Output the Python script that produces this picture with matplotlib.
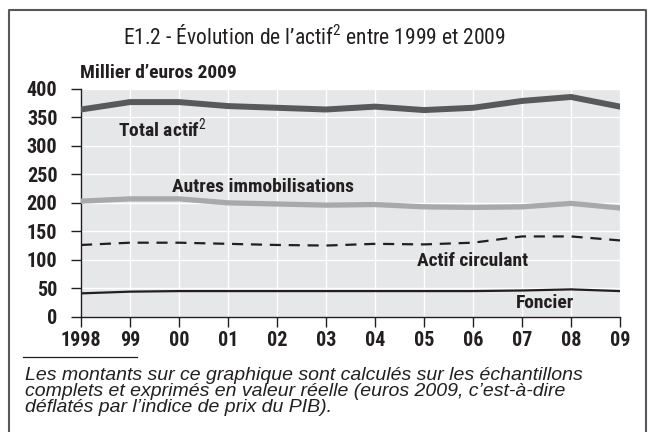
import matplotlib
matplotlib.use("Agg")
import matplotlib.pyplot as plt
from matplotlib import font_manager
from matplotlib.lines import Line2D

years = [1998, 1999, 2000, 2001, 2002, 2003, 2004, 2005, 2006, 2007, 2008, 2009]
year_labels = ["1998", "99", "00", "01", "02", "03", "04", "05", "06", "07", "08", "09"]

total_actif = [364, 377, 377, 370, 367, 364, 369, 363, 367, 379, 386, 369]
autres_immo = [203, 207, 207, 200, 198, 196, 197, 193, 192, 193, 199, 191]
actif_circulant = [126, 130, 130, 128, 126, 125, 128, 127, 130, 141, 141, 134]
foncier = [41, 44, 45, 45, 45, 45, 45, 45, 45, 46, 48, 45]

# look for a narrow font (the original uses a condensed grotesque)
fonts = font_manager.fontManager.ttflist
narrow, stretch = None, "normal"
for want in ["Liberation Sans Narrow", "Roboto Condensed", "Open Sans Condensed",
             "Noto Sans Condensed", "DejaVu Sans Condensed"]:
    if any(f.name == want for f in fonts):
        narrow = want
        break
if narrow is None:
    for f in fonts:
        if f.name in ("Noto Sans", "Open Sans", "Roboto", "DejaVu Sans") and \
                f.stretch in ("condensed", "semi-condensed", "extra-condensed"):
            narrow, stretch = f.name, f.stretch
            break
if narrow is None:
    narrow = "Liberation Sans"

plt.rcParams["font.family"] = [narrow, "DejaVu Sans"]
plt.rcParams["font.stretch"] = stretch
plt.rcParams["mathtext.fontset"] = "custom"
plt.rcParams["mathtext.rm"] = narrow

fig = plt.figure(figsize=(6.48, 4.32), dpi=100)
ax = fig.add_axes([81 / 648, 1 - 316.7 / 432, 539 / 648, 227.7 / 432])
ax.set_facecolor("#e6e7e8")

ax.plot(years, total_actif, color="#58595b", lw=4.3, solid_capstyle="round", zorder=3)
ax.plot(years, autres_immo, color="#a7a9ac", lw=3.8, solid_capstyle="round", zorder=3)
ax.plot(years, actif_circulant, color="#231f20", lw=1.6, dashes=(5, 3.5), zorder=3)
ax.plot(years, foncier, color="#231f20", lw=1.6, zorder=3)

ax.set_xlim(1998, 2009)
ax.set_ylim(0, 400)
ax.set_xticks(years)
ax.set_xticklabels(year_labels)
ax.set_yticks(range(0, 401, 50))
ax.grid(True, color="white", lw=1.0)
ax.set_axisbelow(True)
for s in ["top", "right"]:
    ax.spines[s].set_visible(False)
for s in ["left", "bottom"]:
    ax.spines[s].set_color("#231f20")
    ax.spines[s].set_linewidth(1.0)
ax.tick_params(axis="both", length=7, width=1.0, color="#231f20",
               labelsize=14.5, labelcolor="#231f20")
ax.tick_params(axis="x", pad=3)
ax.tick_params(axis="y", pad=10)
for lab in ax.get_xticklabels() + ax.get_yticklabels():
    lab.set_fontweight("bold")

lbl = dict(fontsize=14, fontweight="bold", color="#231f20", va="center", ha="left")
ax.text(1998.75, 330, "Total actif$^{2}$", **lbl)
ax.text(1999.86, 227, "Autres immobilisations", **lbl)
ax.text(2004.86, 97, "Actif circulant", **lbl)
ax.text(2006.88, 24, "Foncier", **lbl)

fig.text(314 / 648, 1 - 44 / 432, "E1.2 - Évolution de l’actif$^{2}$ entre 1999 et 2009",
         ha="center", va="baseline", fontsize=15.5, color="#231f20")
fig.text(80 / 648, 1 - 78 / 432, "Millier d’euros 2009", ha="left", va="baseline",
         fontsize=14, fontweight="bold", color="#231f20")

# cadre
fig.add_artist(Line2D([9 / 648, 9 / 648, 646 / 648, 646 / 648], [0, 1 - 10 / 432, 1 - 10 / 432, 0],
                      transform=fig.transFigure, color="#58595b", lw=1.5))
fig.add_artist(Line2D([23 / 648, 137 / 648], [1 - 356.7 / 432] * 2,
                      transform=fig.transFigure, color="#231f20", lw=0.9))

note = ("Les montants sur ce graphique sont calculés sur les échantillons\n"
        "complets et exprimés en valeur réelle (euros 2009, c’est-à-dire\n"
        "déflatés par l’indice de prix du PIB).")
fig.text(25 / 648, 1 - 367 / 432, note, ha="left", va="top", linespacing=0.93,
         fontsize=14, style="italic", family=["Liberation Sans", "DejaVu Sans"],
         stretch="normal", color="#231f20")

fig.savefig("out.png", dpi=100)
